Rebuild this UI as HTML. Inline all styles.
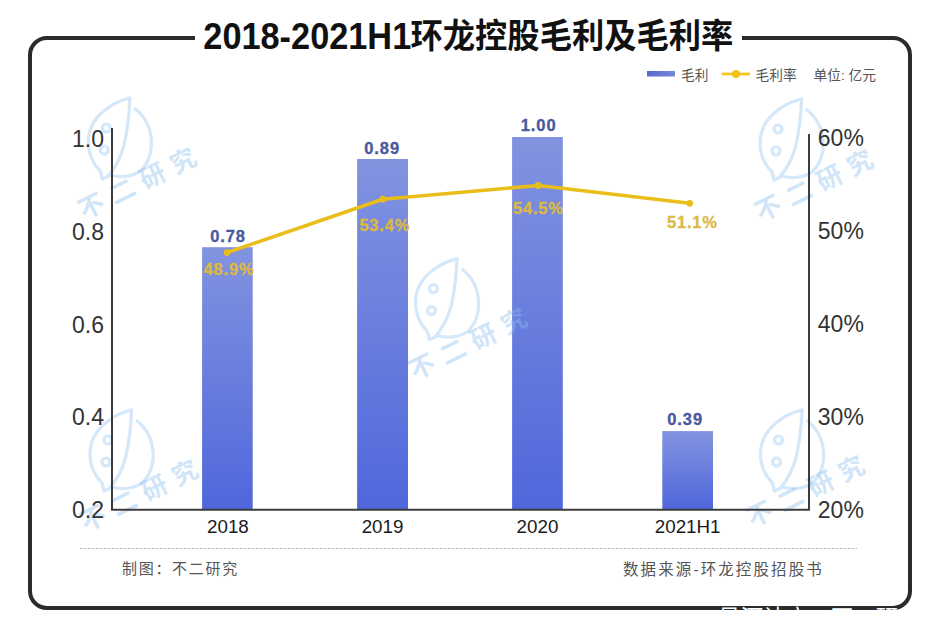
<!DOCTYPE html>
<html><head><meta charset="utf-8"><title>2018-2021H1环龙控股毛利及毛利率</title>
<style>
html,body{margin:0;padding:0;background:#fff;}
body{width:940px;height:644px;position:relative;overflow:hidden;font-family:"Liberation Sans", "Noto Sans CJK SC", sans-serif;}
</style></head><body>
<svg width="940" height="644" viewBox="0 0 940 644" style="position:absolute;left:0;top:0">
<defs>
<linearGradient id="bg" x1="0" y1="0" x2="0" y2="1">
<stop offset="0" stop-color="#8293df"/>
<stop offset="1" stop-color="#5067dc"/>
</linearGradient>
<linearGradient id="lg" x1="0" y1="0" x2="1" y2="0">
<stop offset="0" stop-color="#586cd0"/>
<stop offset="1" stop-color="#7686da"/>
</linearGradient>
</defs>
<path d="M 195 38 H 47 A 17 17 0 0 0 30 55 V 591 A 17 17 0 0 0 47 608 H 893 A 17 17 0 0 0 910 591 V 55 A 17 17 0 0 0 893 38 H 742" fill="none" stroke="#2b2b2b" stroke-width="4"/>
<rect x="202.1" y="247.2" width="50.6" height="262.3" fill="url(#bg)"/>
<rect x="357.1" y="159.0" width="50.9" height="350.5" fill="url(#bg)"/>
<rect x="512.1" y="137.0" width="50.7" height="372.5" fill="url(#bg)"/>
<rect x="662.3" y="431.1" width="50.7" height="78.4" fill="url(#bg)"/>
<g transform="translate(119.3,140)">
<g fill="none" stroke="rgb(140,192,240)" stroke-width="3.2" stroke-linecap="round" stroke-linejoin="round" opacity="0.36">
<path d="M 10.5 -42 C -6 -38 -31 -24 -31 2 C -31 14 -26 24 -19 31 L -17 39 L -9 35 C 0 38 14 37 22 30 C 30 22 33 10 32 0 C 31 -14 25 -24 16 -31"/>
<path d="M 10.5 -42 C 10 -25 8 -10 5 4 C 2 16 -4 28 -12 37"/>
<circle cx="-13" cy="-12" r="4"/>
<circle cx="-15" cy="10" r="4"/>
</g>
<text x="-35.2" y="80.0" transform="rotate(-26.3 -35.2 80.0)" font-family="'Liberation Sans', 'Noto Sans CJK SC', sans-serif" font-weight="700" font-size="25.5" letter-spacing="8.6" fill="rgb(140,192,240)" opacity="0.4">不二研究</text>
</g>
<g transform="translate(446.5,300.6)">
<g fill="none" stroke="rgb(140,192,240)" stroke-width="3.2" stroke-linecap="round" stroke-linejoin="round" opacity="0.36">
<path d="M 10.5 -42 C -6 -38 -31 -24 -31 2 C -31 14 -26 24 -19 31 L -17 39 L -9 35 C 0 38 14 37 22 30 C 30 22 33 10 32 0 C 31 -14 25 -24 16 -31"/>
<path d="M 10.5 -42 C 10 -25 8 -10 5 4 C 2 16 -4 28 -12 37"/>
<circle cx="-13" cy="-12" r="4"/>
<circle cx="-15" cy="10" r="4"/>
</g>
<text x="-31.7" y="80.0" transform="rotate(-26.3 -31.7 80.0)" font-family="'Liberation Sans', 'Noto Sans CJK SC', sans-serif" font-weight="700" font-size="25.5" letter-spacing="8.6" fill="rgb(140,192,240)" opacity="0.4">不二研究</text>
</g>
<g transform="translate(791,141)">
<g fill="none" stroke="rgb(140,192,240)" stroke-width="3.2" stroke-linecap="round" stroke-linejoin="round" opacity="0.36">
<path d="M 10.5 -42 C -6 -38 -31 -24 -31 2 C -31 14 -26 24 -19 31 L -17 39 L -9 35 C 0 38 14 37 22 30 C 30 22 33 10 32 0 C 31 -14 25 -24 16 -31"/>
<path d="M 10.5 -42 C 10 -25 8 -10 5 4 C 2 16 -4 28 -12 37"/>
<circle cx="-13" cy="-12" r="4"/>
<circle cx="-15" cy="10" r="4"/>
</g>
<text x="-30.2" y="81.0" transform="rotate(-26.3 -30.2 81.0)" font-family="'Liberation Sans', 'Noto Sans CJK SC', sans-serif" font-weight="700" font-size="25.5" letter-spacing="8.6" fill="rgb(140,192,240)" opacity="0.4">不二研究</text>
</g>
<g transform="translate(121,452)">
<g fill="none" stroke="rgb(140,192,240)" stroke-width="3.2" stroke-linecap="round" stroke-linejoin="round" opacity="0.36">
<path d="M 10.5 -42 C -6 -38 -31 -24 -31 2 C -31 14 -26 24 -19 31 L -17 39 L -9 35 C 0 38 14 37 22 30 C 30 22 33 10 32 0 C 31 -14 25 -24 16 -31"/>
<path d="M 10.5 -42 C 10 -25 8 -10 5 4 C 2 16 -4 28 -12 37"/>
<circle cx="-13" cy="-12" r="4"/>
<circle cx="-15" cy="10" r="4"/>
</g>
<text x="-35.2" y="80.0" transform="rotate(-26.3 -35.2 80.0)" font-family="'Liberation Sans', 'Noto Sans CJK SC', sans-serif" font-weight="700" font-size="25.5" letter-spacing="8.6" fill="rgb(140,192,240)" opacity="0.4">不二研究</text>
</g>
<g transform="translate(791.5,452)">
<g fill="none" stroke="rgb(140,192,240)" stroke-width="3.2" stroke-linecap="round" stroke-linejoin="round" opacity="0.36">
<path d="M 10.5 -42 C -6 -38 -31 -24 -31 2 C -31 14 -26 24 -19 31 L -17 39 L -9 35 C 0 38 14 37 22 30 C 30 22 33 10 32 0 C 31 -14 25 -24 16 -31"/>
<path d="M 10.5 -42 C 10 -25 8 -10 5 4 C 2 16 -4 28 -12 37"/>
<circle cx="-13" cy="-12" r="4"/>
<circle cx="-15" cy="10" r="4"/>
</g>
<text x="-39.2" y="76.0" transform="rotate(-26.3 -39.2 76.0)" font-family="'Liberation Sans', 'Noto Sans CJK SC', sans-serif" font-weight="700" font-size="25.5" letter-spacing="8.6" fill="rgb(140,192,240)" opacity="0.4">不二研究</text>
</g>
<path d="M 112 128 V 510.8 M 111 509.8 H 810 M 809 134 V 510.8" fill="none" stroke="#3c3c3c" stroke-width="2"/>
<path d="M 227 252.6 L 382.7 199.2 L 538.2 185.5 L 689.7 203.3" fill="none" stroke="#e9bd1a" stroke-width="3.6" stroke-linejoin="round"/>
<circle cx="227" cy="252.6" r="3.4" fill="#e9bd1a"/>
<circle cx="382.7" cy="199.2" r="3.4" fill="#e9bd1a"/>
<circle cx="538.2" cy="185.5" r="3.4" fill="#e9bd1a"/>
<circle cx="689.7" cy="203.3" r="3.4" fill="#e9bd1a"/>
<rect x="647" y="71" width="28" height="5.5" fill="url(#lg)"/>
<path d="M 721.5 74 H 750" stroke="#f0c81e" stroke-width="2.8"/>
<circle cx="736" cy="74" r="4" fill="#f0c315"/>
<text transform="translate(203.3 48.8) scale(1.04 1.10)" x="0" y="0" font-size="33" fill="#111" font-weight="700" font-family="'Liberation Sans', 'Noto Sans CJK SC', sans-serif">2018-2021H1</text>
<text transform="translate(410.5 48.4) scale(1 1.045)" x="0" y="0" font-size="32.3" fill="#111" font-weight="700" font-family="'Liberation Sans', 'Noto Sans CJK SC', sans-serif">环龙控股毛利及毛利率</text>
<text x="681" y="79.6" font-size="13.7" fill="#555" font-weight="400" text-anchor="start" font-family="'Liberation Sans', 'Noto Sans CJK SC', sans-serif" >毛利</text>
<text x="755.5" y="79.6" font-size="13.7" fill="#555" font-weight="400" text-anchor="start" font-family="'Liberation Sans', 'Noto Sans CJK SC', sans-serif" >毛利率</text>
<text x="813.5" y="79.6" font-size="13.7" fill="#555" font-weight="400" text-anchor="start" font-family="'Liberation Sans', 'Noto Sans CJK SC', sans-serif" >单位: 亿元</text>
<text x="104" y="146.70000000000002" font-size="23" fill="#333" font-weight="400" text-anchor="end" font-family="'Liberation Sans', 'Noto Sans CJK SC', sans-serif" >1.0</text>
<text x="104" y="239.60000000000002" font-size="23" fill="#333" font-weight="400" text-anchor="end" font-family="'Liberation Sans', 'Noto Sans CJK SC', sans-serif" >0.8</text>
<text x="104" y="332.5" font-size="23" fill="#333" font-weight="400" text-anchor="end" font-family="'Liberation Sans', 'Noto Sans CJK SC', sans-serif" >0.6</text>
<text x="104" y="425.40000000000003" font-size="23" fill="#333" font-weight="400" text-anchor="end" font-family="'Liberation Sans', 'Noto Sans CJK SC', sans-serif" >0.4</text>
<text x="104" y="518.3000000000001" font-size="23" fill="#333" font-weight="400" text-anchor="end" font-family="'Liberation Sans', 'Noto Sans CJK SC', sans-serif" >0.2</text>
<text x="817.8" y="146.4" font-size="23" fill="#333" font-weight="400" text-anchor="start" font-family="'Liberation Sans', 'Noto Sans CJK SC', sans-serif" >60%</text>
<text x="817.8" y="239.4" font-size="23" fill="#333" font-weight="400" text-anchor="start" font-family="'Liberation Sans', 'Noto Sans CJK SC', sans-serif" >50%</text>
<text x="817.8" y="332.40000000000003" font-size="23" fill="#333" font-weight="400" text-anchor="start" font-family="'Liberation Sans', 'Noto Sans CJK SC', sans-serif" >40%</text>
<text x="817.8" y="425.40000000000003" font-size="23" fill="#333" font-weight="400" text-anchor="start" font-family="'Liberation Sans', 'Noto Sans CJK SC', sans-serif" >30%</text>
<text x="817.8" y="518.4" font-size="23" fill="#333" font-weight="400" text-anchor="start" font-family="'Liberation Sans', 'Noto Sans CJK SC', sans-serif" >20%</text>
<text x="227.89999999999998" y="532.6" font-size="18.8" fill="#1a1a1a" font-weight="400" text-anchor="middle" font-family="'Liberation Sans', 'Noto Sans CJK SC', sans-serif" >2018</text>
<text x="228.04999999999998" y="241.6" font-size="16.5" fill="#4b5a9e" font-weight="700" text-anchor="middle" font-family="'Liberation Sans', 'Noto Sans CJK SC', sans-serif" letter-spacing="0.9" stroke="#4b5a9e" stroke-width="0.35">0.78</text>
<text x="382.55" y="532.6" font-size="18.8" fill="#1a1a1a" font-weight="400" text-anchor="middle" font-family="'Liberation Sans', 'Noto Sans CJK SC', sans-serif" >2019</text>
<text x="382.15" y="153.8" font-size="16.5" fill="#4b5a9e" font-weight="700" text-anchor="middle" font-family="'Liberation Sans', 'Noto Sans CJK SC', sans-serif" letter-spacing="0.9" stroke="#4b5a9e" stroke-width="0.35">0.89</text>
<text x="537.45" y="532.6" font-size="18.8" fill="#1a1a1a" font-weight="400" text-anchor="middle" font-family="'Liberation Sans', 'Noto Sans CJK SC', sans-serif" >2020</text>
<text x="538.6500000000001" y="130.8" font-size="16.5" fill="#4b5a9e" font-weight="700" text-anchor="middle" font-family="'Liberation Sans', 'Noto Sans CJK SC', sans-serif" letter-spacing="0.9" stroke="#4b5a9e" stroke-width="0.35">1.00</text>
<text x="687.65" y="532.6" font-size="18.8" fill="#1a1a1a" font-weight="400" text-anchor="middle" font-family="'Liberation Sans', 'Noto Sans CJK SC', sans-serif" >2021H1</text>
<text x="685.1500000000001" y="424.8" font-size="16.5" fill="#4b5a9e" font-weight="700" text-anchor="middle" font-family="'Liberation Sans', 'Noto Sans CJK SC', sans-serif" letter-spacing="0.9" stroke="#4b5a9e" stroke-width="0.35">0.39</text>
<text x="229.0" y="275.0" font-size="16.5" fill="#dcba42" font-weight="700" text-anchor="middle" font-family="'Liberation Sans', 'Noto Sans CJK SC', sans-serif" letter-spacing="0.8" stroke="#dcba42" stroke-width="0.3">48.9%</text>
<text x="384.8" y="231.0" font-size="16.5" fill="#dcba42" font-weight="700" text-anchor="middle" font-family="'Liberation Sans', 'Noto Sans CJK SC', sans-serif" letter-spacing="0.8" stroke="#dcba42" stroke-width="0.3">53.4%</text>
<text x="538.4" y="214.0" font-size="16.5" fill="#dcba42" font-weight="700" text-anchor="middle" font-family="'Liberation Sans', 'Noto Sans CJK SC', sans-serif" letter-spacing="0.8" stroke="#dcba42" stroke-width="0.3">54.5%</text>
<text x="692.4" y="228.2" font-size="16.5" fill="#dcba42" font-weight="700" text-anchor="middle" font-family="'Liberation Sans', 'Noto Sans CJK SC', sans-serif" letter-spacing="0.8" stroke="#dcba42" stroke-width="0.3">51.1%</text>
<text x="122" y="574.3" font-size="15" fill="#555" font-weight="400" text-anchor="start" font-family="'Liberation Sans', 'Noto Sans CJK SC', sans-serif" letter-spacing="1.7">制图：不二研究</text>
<text x="623" y="575.0" font-size="15.5" fill="#555" font-weight="400" text-anchor="start" font-family="'Liberation Sans', 'Noto Sans CJK SC', sans-serif" letter-spacing="2.1">数据来源-环龙控股招股书</text>
<text x="718" y="626.3" font-size="22.5" fill="#fff" font-weight="400" text-anchor="start" font-family="'Liberation Sans', 'Noto Sans CJK SC', sans-serif" >号河认广@不二研究</text>
<path d="M 80 548.5 H 857" stroke="#b3b3b3" stroke-width="1" stroke-dasharray="2.5 1.5"/>
</svg>
</body></html>
